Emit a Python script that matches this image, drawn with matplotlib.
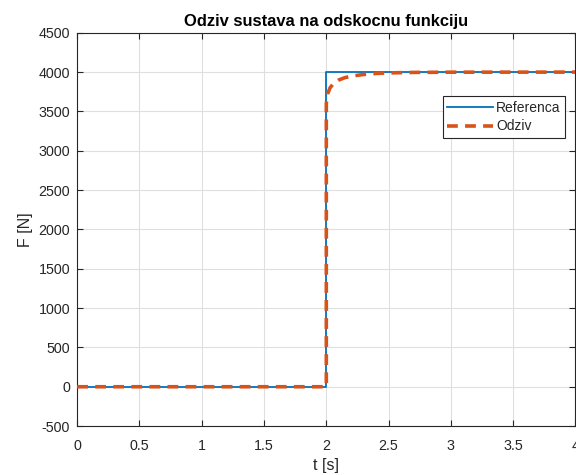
import matplotlib
matplotlib.use('Agg')
import matplotlib.pyplot as plt

# reference step: 0 until t=2, then 4000
t_ref = [0, 2.0, 2.0, 4.0]
f_ref = [0, 0, 4000, 4000]

# system response
t_resp = [0, 2.0, 2.0, 2.01, 2.03, 2.06, 2.1, 2.15, 2.2, 2.3, 2.4, 2.5, 2.7, 3.0, 4.0]
f_resp = [0, 0, 3600, 3720, 3800, 3860, 3900, 3930, 3948, 3970, 3983, 3990, 3996, 3999, 4000]

x_ticks = [0, 0.5, 1, 1.5, 2, 2.5, 3, 3.5, 4]
x_labels = ['0', '0.5', '1', '1.5', '2', '2.5', '3', '3.5', '4']
y_ticks = list(range(-500, 4501, 500))

plt.rcParams['font.family'] = ['Liberation Sans', 'DejaVu Sans']
plt.rcParams['axes.unicode_minus'] = False
txt = '#262626'

fig = plt.figure(figsize=(5.76, 4.75), dpi=100)
ax = fig.add_axes([0.134, 0.103, 0.865, 0.828])

ax.plot(t_ref, f_ref, color='#0072BD', lw=1.3, label='Referenca', zorder=3)
ax.plot(t_resp, f_resp, color='#D95319', lw=2.6, ls=(0, (3.0, 2.0)), label='Odziv', zorder=4)

ax.set_xlim(0, 4)
ax.set_ylim(-500, 4500)
ax.set_xticks(x_ticks)
ax.set_xticklabels(x_labels)
ax.set_yticks(y_ticks)
ax.grid(True, color='#dfdfdf', lw=0.8)
ax.set_axisbelow(True)
ax.tick_params(direction='in', top=True, right=True, length=4, width=0.8,
               labelsize=10.3, labelcolor=txt, color=txt)
ax.tick_params(axis='y', pad=5)
ax.tick_params(axis='x', pad=9)
for s in ax.spines.values():
    s.set_color(txt)
    s.set_linewidth(0.8)

ax.set_xlabel('t [s]', fontsize=11.5, color=txt, labelpad=4)
ax.set_ylabel('F [N]', fontsize=11.5, color=txt, labelpad=4)
ax.set_title('Odziv sustava na odskocnu funkciju', fontsize=11.9, fontweight='bold',
             color='black', pad=5)

leg = ax.legend(loc='upper right', bbox_to_anchor=(0.98, 0.84), fontsize=10,
                frameon=True, fancybox=False, edgecolor=txt, framealpha=1,
                borderpad=0.35, handlelength=3.3, handletextpad=0.2,
                labelspacing=0.35, borderaxespad=0)
leg.get_frame().set_linewidth(0.8)
for t in leg.get_texts():
    t.set_color(txt)

fig.savefig('out.png', dpi=100)
